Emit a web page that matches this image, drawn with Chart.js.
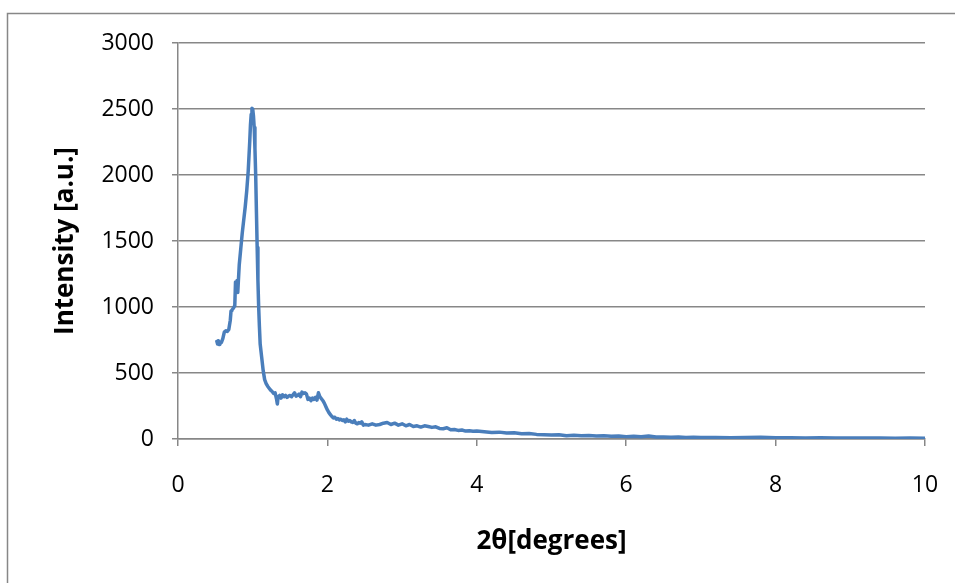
<!DOCTYPE html>
<html>
<head>
<meta charset="utf-8">
<script src="https://cdn.jsdelivr.net/npm/chart.js@4/dist/chart.umd.min.js"></script>
<style>
html,body{margin:0;padding:0;background:#fff;}
#wrap{width:955px;height:583px;position:relative;}
</style>
</head>
<body>
<div id="wrap"><canvas id="c" width="955" height="583"></canvas></div>
<script>
const xTitle = '2θ[degrees]';
const yTitle = 'Intensity [a.u.]';
const xTicks = [0, 2, 4, 6, 8, 10];
const yTicks = [0, 500, 1000, 1500, 2000, 2500, 3000];

const theta = [
 0.52,0.53,0.54,0.55,0.56,0.58,0.60,0.62,0.64,0.66,0.68,0.70,0.71,0.72,0.74,0.76,0.77,0.78,0.79,0.80,
 0.82,0.84,0.86,0.88,0.90,0.92,0.94,0.96,0.97,0.98,0.99,1.00,1.01,1.02,1.03,1.04,1.05,1.06,1.07,1.08,
 1.09,1.10,1.12,1.14,1.16,1.18,1.20,1.22,1.24,1.26,1.28,1.30,1.32,1.33,1.34,1.36,1.38,1.40,1.42,1.44,
 1.46,1.48,1.50,1.52,1.54,1.56,1.58,1.60,1.62,1.64,1.66,1.68,1.70,1.72,1.74,1.76,1.78,1.80,1.82,1.84,
 1.86,1.88,1.90,1.92,1.94,1.96,1.98,2.00,2.02,2.04,2.06,2.08,2.10,2.12,2.14,2.16,2.18,2.20,2.22,2.24,
 2.26,2.28,2.30,2.32,2.34,2.36,2.38,2.40,2.42,2.44,2.46,2.48,2.50,2.55,2.60,2.65,2.70,2.75,2.80,2.85,
 2.90,2.95,3.00,3.05,3.10,3.15,3.20,3.25,3.30,3.35,3.40,3.45,3.50,3.55,3.60,3.65,3.70,3.75,3.80,3.85,
 3.90,3.95,4.00,4.10,4.20,4.30,4.40,4.50,4.60,4.70,4.80,4.90,5.00,5.10,5.20,5.30,5.40,5.50,5.60,5.70,
 5.80,5.90,6.00,6.10,6.20,6.30,6.40,6.50,6.60,6.70,6.80,6.90,7.00,7.20,7.40,7.60,7.80,8.00,8.20,8.40,
 8.60,8.80,9.00,9.20,9.40,9.60,9.80,10.00
];
const intensity = [
 740,720,745,715,735,730,760,810,820,815,830,900,970,975,990,1010,1190,1120,1200,1110,
 1320,1440,1560,1660,1760,1880,2030,2250,2380,2460,2505,2500,2450,2360,2200,2000,1720,1450,1200,1000,
 850,720,620,520,450,420,400,385,370,360,345,350,300,265,320,330,310,335,320,330,
 315,325,330,320,335,350,325,330,340,320,355,345,350,340,300,310,290,310,300,315,
 295,350,320,305,290,270,245,220,200,185,170,160,165,150,155,145,150,140,145,130,
 150,135,140,130,125,140,120,115,125,120,130,105,110,105,115,105,110,120,125,110,
 120,105,115,100,110,95,100,90,100,95,88,92,80,78,85,70,72,65,68,60,
 62,58,60,55,50,52,45,48,40,42,35,33,30,32,25,28,24,26,22,24,
 20,22,18,20,17,22,15,16,13,15,12,14,11,12,10,11,14,9,10,8,
 9,7,8,7,8,6,7,5
];

const points = theta.map((x, i) => ({x: x, y: intensity[i]}));
const gray = '#878787';

const frame = {
  id: 'frame',
  beforeDraw(chart) {
    const ctx = chart.ctx;
    ctx.save();
    ctx.fillStyle = '#fff';
    ctx.fillRect(0, 0, chart.width, chart.height);
    ctx.strokeStyle = gray;
    ctx.lineWidth = 1.5;
    ctx.strokeRect(7.5, 13.5, 1200, 1200);
    ctx.restore();
  }
};

new Chart(document.getElementById('c'), {
  type: 'line',
  data: {
    datasets: [{
      data: points,
      borderColor: '#4a7ebb',
      borderWidth: 3.5,
      pointRadius: 0,
      tension: 0,
      fill: false,
      borderJoinStyle: 'round',
      borderCapStyle: 'round'
    }]
  },
  options: {
    responsive: false,
    animation: false,
    layout: {padding: {left: 0, top: 43, right: 30, bottom: 0}},
    plugins: {legend: {display: false}, tooltip: {enabled: false}},
    scales: {
      x: {
        type: 'linear',
        min: 0, max: 10,
        afterBuildTicks(s) { s.ticks = xTicks.map(v => ({value: v})); },
        afterFit(s) { s.height = 144; s.paddingRight = 0; s.paddingLeft = 0; },
        grid: {drawOnChartArea: false, drawTicks: true, tickLength: 7, color: gray, lineWidth: 1.5},
        border: {display: true, color: gray, width: 1.5},
        ticks: {color: '#000', font: {family: 'Open Sans', size: 23}, padding: 26, maxRotation: 0,
                callback: v => String(v)},
        title: {display: true, text: xTitle, color: '#000', font: {family: 'Open Sans', size: 26, weight: 'bold'}, padding: {top: 0, bottom: 26}}
      },
      y: {
        type: 'linear',
        min: 0, max: 3000,
        afterBuildTicks(s) { s.ticks = yTicks.map(v => ({value: v})); },
        afterFit(s) { s.width = 178; s.paddingTop = 0; s.paddingBottom = 0; },
        grid: {drawOnChartArea: true, drawTicks: true, tickLength: 6, color: gray, lineWidth: 1.5},
        border: {display: true, color: gray, width: 1.5},
        ticks: {color: '#000', font: {family: 'Open Sans', size: 23}, padding: 18,
                callback: v => String(v)},
        title: {display: true, text: yTitle, color: '#000', font: {family: 'Open Sans', size: 26, weight: 'bold'}, padding: {top: 50, bottom: 0}}
      }
    }
  },
  plugins: [frame]
});
</script>
</body>
</html>
